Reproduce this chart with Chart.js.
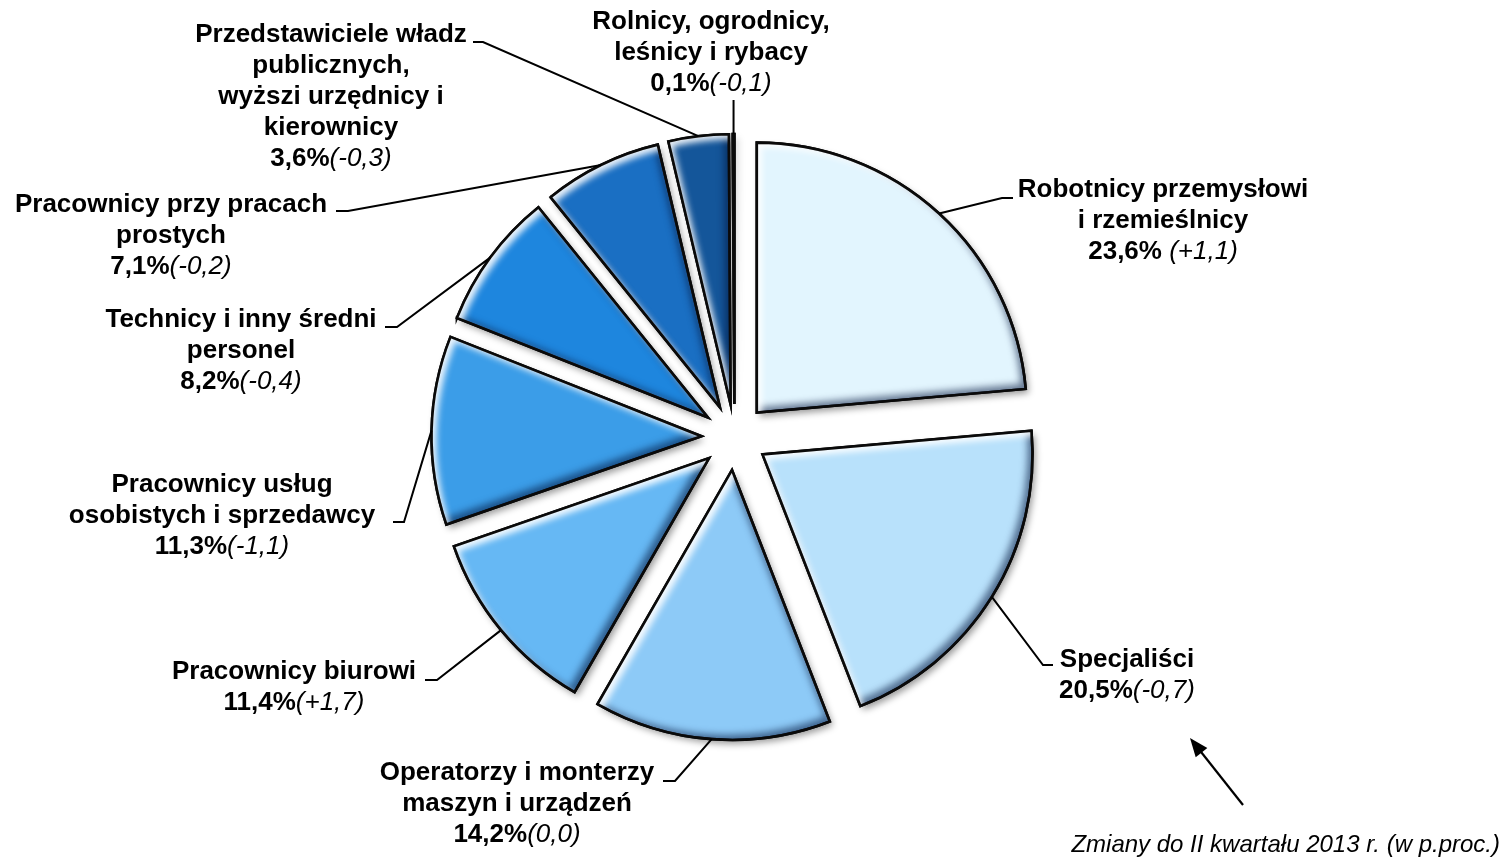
<!DOCTYPE html>
<html>
<head>
<meta charset="utf-8">
<script src="https://cdn.jsdelivr.net/npm/chart.js@4.4.1/dist/chart.umd.min.js"></script>
<style>
html,body{margin:0;padding:0;background:#ffffff;}
#wrap{width:1504px;height:866px;position:relative;}
</style>
</head>
<body>
<div id="wrap"><canvas id="c"></canvas></div>
<script>
// ---- data ----
const categories = [
  'Robotnicy przemysłowi i rzemieślnicy',
  'Specjaliści',
  'Operatorzy i monterzy maszyn i urządzeń',
  'Pracownicy biurowi',
  'Pracownicy usług osobistych i sprzedawcy',
  'Technicy i inny średni personel',
  'Pracownicy przy pracach prostych',
  'Przedstawiciele władz publicznych, wyższi urzędnicy i kierownicy',
  'Rolnicy, ogrodnicy, leśnicy i rybacy'
];
const shares = [23.6, 20.5, 14.2, 11.4, 11.3, 8.2, 7.1, 3.6, 0.1];
const changes = [1.1, -0.7, 0.0, 1.7, -1.1, -0.4, -0.2, -0.3, -0.1];
const labelLines = [
  ['Robotnicy przemysłowi', 'i rzemieślnicy'],
  ['Specjaliści'],
  ['Operatorzy i monterzy', 'maszyn i urządzeń'],
  ['Pracownicy biurowi'],
  ['Pracownicy usług', 'osobistych i sprzedawcy'],
  ['Technicy i inny średni', 'personel'],
  ['Pracownicy przy pracach', 'prostych'],
  ['Przedstawiciele władz', 'publicznych,', 'wyższi urzędnicy i', 'kierownicy'],
  ['Rolnicy, ogrodnicy,', 'leśnicy i rybacy']
];
const noteText = 'Zmiany do II kwartału 2013 r. (w p.proc.)';

// ---- styles / layout ----
const colors = ['#E2F5FE', '#B8E1FB', '#8DCAF7', '#66B8F4', '#3B9DE8', '#1E86DE', '#1A6FC3', '#14569A', '#0C3D70'];
const EXPLODE = 33;
const RADIUS = 270;
const FONT_FAMILY = '"Liberation Sans", Arial, Helvetica, sans-serif';
const FONT_SIZE = 26;
const LINE_H = 31;
const LABEL_LAYOUT = [
  {cx: 1163, y: 190, elbow: [1002, 198], end: [1013, 198], gap: ' '},
  {cx: 1127, y: 660, elbow: [1043, 665], end: [1053, 665]},
  {cx: 517,  y: 773, elbow: [675, 781],  end: [663, 781]},
  {cx: 294,  y: 672, elbow: [437, 680],  end: [425, 680]},
  {cx: 222,  y: 485, elbow: [404, 522],  end: [393, 522]},
  {cx: 241,  y: 320, elbow: [397, 327],  end: [385, 327]},
  {cx: 171,  y: 205, elbow: [348, 211],  end: [336, 211]},
  {cx: 331,  y: 35,  elbow: [483, 42],   end: [473, 42]},
  {cx: 711,  y: 22,  elbow: null,        end: [null, 100]}
];

function fmt(v) { return v.toFixed(1).replace('.', ','); }
function fmtChange(v) { return '(' + (v > 0 ? '+' : '') + fmt(v) + ')'; }

function slicePath(ctx, a) {
  ctx.moveTo(a.x, a.y);
  ctx.arc(a.x, a.y, a.outerRadius, a.startAngle, a.endAngle);
  ctx.closePath();
}

const explodePlugin = {
  id: 'explode',
  afterDatasetsUpdate(chart) {
    chart.getDatasetMeta(0).data.forEach(a => {
      const m = (a.startAngle + a.endAngle) / 2;
      a.x += Math.cos(m) * EXPLODE;
      a.y += Math.sin(m) * EXPLODE;
    });
  },
  beforeDatasetsDraw(chart) {
    const ctx = chart.ctx;
    chart.getDatasetMeta(0).data.forEach((a, i) => {
      ctx.save();
      ctx.shadowColor = 'rgba(0,0,0,0.4)';
      ctx.shadowBlur = 7;
      ctx.shadowOffsetX = 3;
      ctx.shadowOffsetY = 4;
      ctx.beginPath();
      slicePath(ctx, a);
      ctx.fillStyle = colors[i];
      ctx.fill();
      ctx.restore();
    });
  },
  afterDatasetsDraw(chart) {
    const ctx = chart.ctx;
    chart.getDatasetMeta(0).data.forEach((a, i) => {
      const passes = [
        {color: 'rgba(0,20,60,0.55)', dx: -5, dy: -5, blur: 7},
        {color: 'rgba(255,255,255,0.9)', dx: 5, dy: 5, blur: 6}
      ];
      passes.forEach(p => {
        ctx.save();
        ctx.beginPath();
        slicePath(ctx, a);
        ctx.clip();
        ctx.beginPath();
        ctx.rect(-3000, -3000, 8000, 8000);
        slicePath(ctx, a);
        ctx.shadowColor = p.color;
        ctx.shadowBlur = p.blur;
        ctx.shadowOffsetX = p.dx;
        ctx.shadowOffsetY = p.dy;
        ctx.fillStyle = '#000';
        ctx.fill('evenodd');
        ctx.restore();
      });
      ctx.save();
      ctx.beginPath();
      slicePath(ctx, a);
      ctx.lineWidth = 2.6;
      ctx.lineJoin = 'miter';
      ctx.strokeStyle = '#0a0a0a';
      ctx.stroke();
      ctx.restore();
    });
  },
  afterDraw(chart) {
    const ctx = chart.ctx;
    const arcs = chart.getDatasetMeta(0).data;
    const bold = 'bold ' + FONT_SIZE + 'px ' + FONT_FAMILY;
    const ital = 'italic ' + FONT_SIZE + 'px ' + FONT_FAMILY;
    ctx.save();
    ctx.fillStyle = '#000';
    ctx.strokeStyle = '#000';
    ctx.textBaseline = 'middle';
    arcs.forEach((a, i) => {
      const L = LABEL_LAYOUT[i];
      const lines = labelLines[i];
      ctx.textAlign = 'center';
      ctx.font = bold;
      lines.forEach((t, k) => ctx.fillText(t, L.cx, L.y + k * LINE_H));
      const y = L.y + lines.length * LINE_H;
      const s1 = fmt(shares[i]) + '%' + (L.gap || '');
      const s2 = fmtChange(changes[i]);
      ctx.font = bold; const w1 = ctx.measureText(s1).width;
      ctx.font = ital; const w2 = ctx.measureText(s2).width;
      const x0 = L.cx - (w1 + w2) / 2;
      ctx.textAlign = 'left';
      ctx.font = bold; ctx.fillText(s1, x0, y);
      ctx.font = ital; ctx.fillText(s2, x0 + w1, y);
      const m = (a.startAngle + a.endAngle) / 2;
      const ax = a.x + Math.cos(m) * a.outerRadius;
      const ay = a.y + Math.sin(m) * a.outerRadius;
      ctx.lineWidth = 2;
      ctx.beginPath();
      ctx.moveTo(ax, ay);
      if (L.elbow) {
        ctx.lineTo(L.elbow[0], L.elbow[1]);
        ctx.lineTo(L.end[0], L.end[1]);
      } else {
        ctx.lineTo(ax, L.end[1]);
      }
      ctx.stroke();
    });
    ctx.font = 'italic 24px ' + FONT_FAMILY;
    ctx.textAlign = 'right';
    ctx.textBaseline = 'middle';
    ctx.fillText(noteText, 1500, 845);
    const x1 = 1243, y1 = 805, x2 = 1190, y2 = 738;
    const ang = Math.atan2(y2 - y1, x2 - x1);
    ctx.lineWidth = 2.2;
    ctx.beginPath();
    ctx.moveTo(x1, y1);
    ctx.lineTo(x2 - Math.cos(ang) * 8, y2 - Math.sin(ang) * 8);
    ctx.stroke();
    ctx.beginPath();
    ctx.moveTo(x2, y2);
    ctx.lineTo(x2 - Math.cos(ang - 0.38) * 20, y2 - Math.sin(ang - 0.38) * 20);
    ctx.lineTo(x2 - Math.cos(ang + 0.38) * 20, y2 - Math.sin(ang + 0.38) * 20);
    ctx.closePath();
    ctx.fill();
    ctx.restore();
  }
};

new Chart(document.getElementById('c'), {
  type: 'pie',
  data: {
    labels: categories,
    datasets: [{
      data: shares,
      backgroundColor: colors,
      borderColor: '#0a0a0a',
      borderWidth: 2.6,
      borderJoinStyle: 'miter',
      radius: RADIUS
    }]
  },
  options: {
    responsive: true,
    maintainAspectRatio: false,
    animation: false,
    events: [],
    rotation: 0,
    layout: {padding: {left: 0, right: 35, top: 8, bottom: 0}},
    plugins: {
      legend: {display: false},
      tooltip: {enabled: false}
    }
  },
  plugins: [explodePlugin]
});
</script>
</body>
</html>
